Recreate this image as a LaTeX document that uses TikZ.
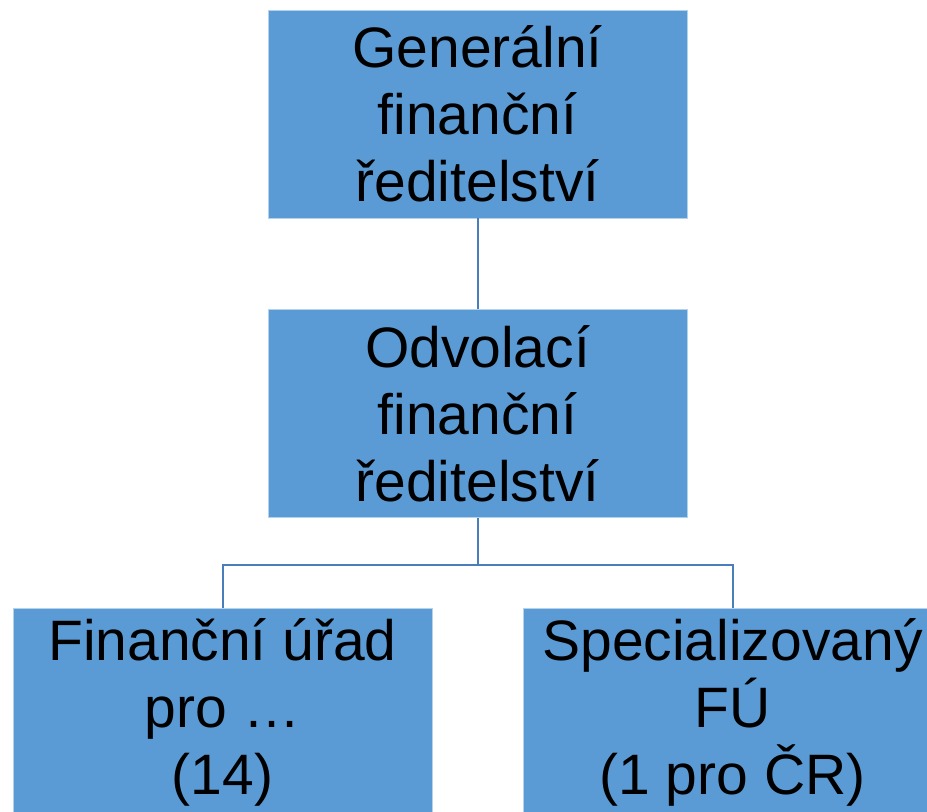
\documentclass[tikz,border=0pt]{standalone}
\usepackage{fontspec}
\setmainfont{Liberation Sans}
\usepackage{tikz}
\usepackage{xcolor}

\definecolor{boxblue}{HTML}{5B9BD5}
\definecolor{linkblue}{HTML}{4A7EBB}

\begin{document}
\begin{tikzpicture}[x=0.5pt,y=-0.5pt,
    office/.style={rectangle,fill=boxblue,draw=white!55!boxblue,line width=0.4pt,
        minimum width=209.5pt,minimum height=104pt,inner sep=0pt,align=center,
        font=\fontsize{28.5}{33.5}\selectfont},
    link/.style={draw=linkblue,line width=1pt}]
    % Page
    \path[use as bounding box,clip] (0,0) rectangle (927,811);

    % Offices
    \node [office] (gfr) at (477.5,114) {Generální\\finanční\\ředitelství};
    \node [office] (ofr) at (477.5,413.5) {Odvolací\\finanční\\ředitelství};
    \node [office] (fu) at (222.5,712) {Finanční úřad\\pro \dots\\(14)};
    \node [office] (sfu) at (732.5,712) {Specializovaný\\FÚ\\(1 pro ČR)};

    % Helper point (imaginary)
    \coordinate (split) at (477.5,565);

    % Links
    \draw [link] (gfr) -- (ofr);
    \draw [link] (ofr) -- (split) -| (fu);
    \draw [link] (split) -| (sfu);
\end{tikzpicture}
\end{document}
